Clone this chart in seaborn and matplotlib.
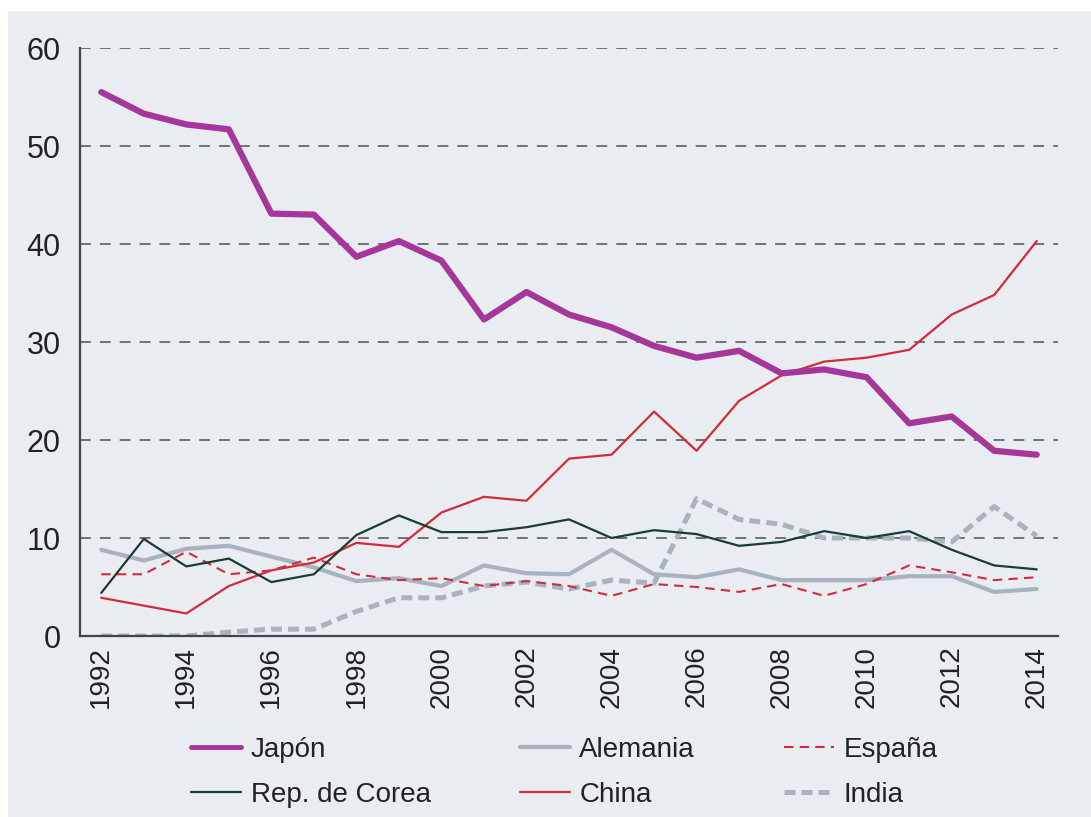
import pandas as pd
import matplotlib.pyplot as plt
import seaborn as sns
from matplotlib.patches import Rectangle

years = list(range(1992, 2015))

japon = [55.5, 53.3, 52.2, 51.7, 43.1, 43.0, 38.7, 40.3, 38.3, 32.3, 35.1, 32.8,
         31.5, 29.6, 28.4, 29.1, 26.8, 27.2, 26.4, 21.7, 22.4, 18.9, 18.5]
corea = [4.4, 9.9, 7.1, 7.9, 5.5, 6.3, 10.3, 12.3, 10.6, 10.6, 11.1, 11.9,
         10.0, 10.8, 10.4, 9.2, 9.6, 10.7, 10.0, 10.7, 8.8, 7.2, 6.8]
alemania = [8.8, 7.7, 8.9, 9.2, 8.1, 7.0, 5.6, 5.9, 5.1, 7.2, 6.4, 6.3,
            8.8, 6.3, 6.0, 6.8, 5.7, 5.7, 5.7, 6.1, 6.1, 4.5, 4.8]
china = [3.9, 3.1, 2.3, 5.1, 6.7, 7.5, 9.5, 9.1, 12.6, 14.2, 13.8, 18.1,
         18.5, 22.9, 18.9, 24.0, 26.6, 28.0, 28.4, 29.2, 32.8, 34.8, 40.3]
espana = [6.3, 6.3, 8.6, 6.3, 6.7, 8.0, 6.3, 5.7, 5.9, 5.1, 5.6, 5.1,
          4.1, 5.3, 5.0, 4.5, 5.3, 4.1, 5.3, 7.2, 6.5, 5.7, 6.0]
india = [0.0, 0.0, 0.0, 0.4, 0.7, 0.7, 2.5, 3.9, 3.9, 5.1, 5.5, 4.8,
         5.7, 5.4, 14.0, 11.9, 11.4, 10.0, 10.0, 10.0, 9.6, 13.2, 10.2]

# legend order (matplotlib fills column by column)
series = ["Japón", "Rep. de Corea", "Alemania", "China", "España", "India"]

df = pd.DataFrame({"year": years, "Japón": japon, "Rep. de Corea": corea,
                   "Alemania": alemania, "China": china, "España": espana,
                   "India": india})

bg = "#e9ecf1"
purple = "#a6379a"
gray = "#a7b3bf"
red = "#d22b3b"
dark = "#1c3b33"

sns.set_style("white")
plt.rcParams["font.family"] = ["Liberation Sans", "DejaVu Sans"]

fig = plt.figure(figsize=(10.91, 8.17), dpi=100, facecolor=bg)
# white strip top and left like the source scan
fig.patches.append(Rectangle((0, 1 - 10 / 817), 1, 10 / 817, transform=fig.transFigure,
                             color="white", zorder=0))
fig.patches.append(Rectangle((0, 0), 7 / 1091, 1, transform=fig.transFigure,
                             color="white", zorder=0))

ax = fig.add_axes([80 / 1091, 1 - 636 / 817, (1058 - 80) / 1091, (636 - 48) / 817])
ax.set_facecolor(bg)

styles = {
    "India": dict(color=gray, lw=3.6, dashes=(2.2, 1.2)),
    "Alemania": dict(color=gray, lw=3.0, dashes=()),
    "España": dict(color=red, lw=1.5, dashes=(4.5, 3)),
    "China": dict(color=red, lw=1.6, dashes=()),
    "Rep. de Corea": dict(color=dark, lw=1.6, dashes=()),
    "Japón": dict(color=purple, lw=4.5, dashes=()),
}

lines = {}
for name in ["India", "Alemania", "España", "China", "Rep. de Corea", "Japón"]:
    st = styles[name]
    sns.lineplot(data=df, x="year", y=name, ax=ax, color=st["color"], lw=st["lw"],
                 label=name, legend=False)
    ln = ax.get_lines()[-1]
    if st["dashes"]:
        ln.set_dashes(st["dashes"])
    lines[name] = ln

ax.set_xlim(1991.5, 2014.5)
ax.set_ylim(0, 60)
ax.set_yticks(range(0, 61, 10))
ax.tick_params(axis="y", labelsize=22, length=9, width=1.5, color="#444444",
               labelcolor="#222222", pad=5)

ax.set_xticks(years[::2])
ax.set_xticklabels([str(y) for y in years[::2]], rotation=90, fontsize=20, color="#222222")
ax.set_xticks([y + 0.5 for y in years[:-1]], minor=True)
ax.tick_params(axis="x", which="major", length=0, pad=7)
ax.tick_params(axis="x", which="minor", length=10, width=1.5, color="#444444")

for v in range(10, 61, 10):
    ax.axhline(v, color="#666666", lw=1.3, dashes=(6, 5), zorder=0.5)

for s in ["top", "right"]:
    ax.spines[s].set_visible(False)
for s in ["left", "bottom"]:
    ax.spines[s].set_color("#444444")
    ax.spines[s].set_linewidth(1.6)

ax.set_xlabel("")
ax.set_ylabel("")

handles = [lines[n] for n in series]
leg = fig.legend(handles, series, loc="upper left", bbox_to_anchor=(166 / 1091, 1 - 712 / 817),
                 ncol=3, frameon=False, fontsize=20, handlelength=1.8, handletextpad=0.35,
                 columnspacing=3.2, labelspacing=0.67)
for t in leg.get_texts():
    t.set_color("#222222")
for h in leg.get_lines():
    if h.get_linewidth() > 4:
        h.set_linewidth(3.5)

fig.savefig("out.png", dpi=100, facecolor=bg)
